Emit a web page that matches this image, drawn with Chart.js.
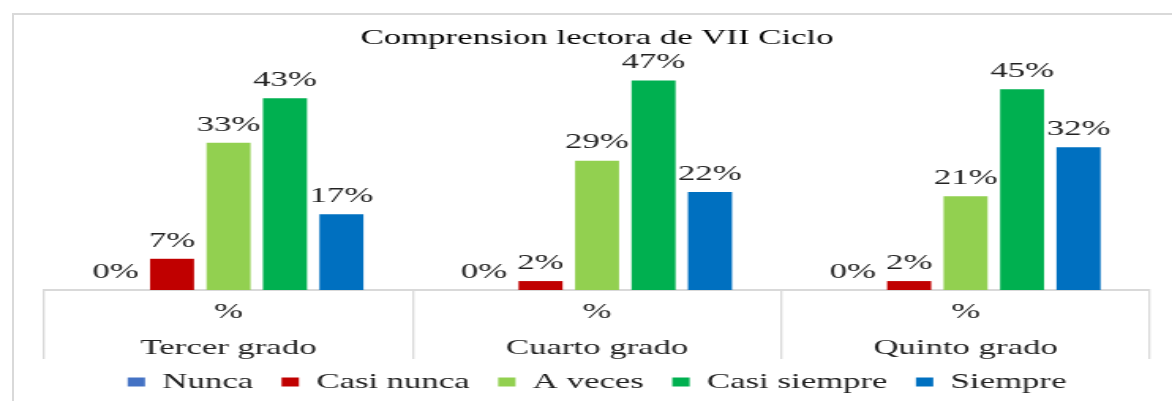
<!DOCTYPE html>
<html>
<head>
<meta charset="utf-8">
<script src="https://cdn.jsdelivr.net/npm/chart.js@4/dist/chart.umd.min.js"></script>
<style>
  html, body { margin: 0; padding: 0; background: #fff; overflow: hidden; }
  #frame {
    position: absolute; left: 12px; top: 13px; width: 1170px; height: 400px;
    border-left: 2px solid #d9d9d9; border-top: 2px solid #d9d9d9;
  }
  /* the original picture is stretched sideways, so the chart is drawn narrow and widened */
  #wrap {
    position: absolute; left: 0; top: 0; width: 742px; height: 401px;
    transform: scaleX(1.5795); transform-origin: 0 0;
  }
</style>
</head>
<body>
<div id="frame"></div>
<div id="wrap"><canvas id="chart"></canvas></div>
<script>
const serif = "'Times New Roman', 'Liberation Serif', serif";

// data
const categories = [['%', 'Tercer grado'], ['%', 'Cuarto grado'], ['%', 'Quinto grado']];
const seriesNames = ['Nunca', 'Casi nunca', 'A veces', 'Casi siempre', 'Siempre'];
const nunca = [0, 0, 0];
const casiNunca = [7, 2, 2];
const aVeces = [33, 29, 21];
const casiSiempre = [43, 47, 45];
const siempre = [17, 22, 32];
const colors = ['#4472C4', '#C00000', '#92D050', '#00B050', '#0070C0'];

const seriesValues = [nunca, casiNunca, aVeces, casiSiempre, siempre];

// value labels above each bar
const barLabels = {
  id: 'barLabels',
  afterDatasetsDraw(chart) {
    const ctx = chart.ctx;
    ctx.save();
    ctx.font = '22px ' + serif;
    ctx.fillStyle = '#222';
    ctx.textAlign = 'center';
    ctx.textBaseline = 'middle';
    chart.data.datasets.forEach((ds, i) => {
      chart.getDatasetMeta(i).data.forEach((bar, j) => {
        ctx.fillText(ds.data[j] + '%', bar.x, bar.y - 18);
      });
    });
    ctx.restore();
  }
};

// legend sits tucked up against the category labels, as in the original
const legendLift = {
  id: 'legendLift',
  afterLayout(chart) {
    const lg = chart.legend;
    if (lg) {
      lg.top -= 13;
      lg.bottom -= 13;
    }
  }
};

const data = {
  labels: categories,
  datasets: seriesNames.map((name, i) => ({
    label: name,
    data: seriesValues[i],
    backgroundColor: colors[i],
    borderWidth: 0,
    categoryPercentage: 0.766,
    barPercentage: 0.78,
  })),
};

const config = {
  type: 'bar',
  data: data,
  options: {
    responsive: true,
    maintainAspectRatio: false,
    animation: false,
    layout: { padding: { left: 28, right: 14, top: 0, bottom: -15 } },
    plugins: {
      title: {
        display: true,
        text: 'Comprension lectora de VII Ciclo',
        color: '#000',
        font: { family: serif, size: 22, weight: 'normal' },
        padding: { top: 25, bottom: 15.6 },
      },
      legend: {
        position: 'bottom',
        labels: {
          color: '#222',
          font: { family: serif, size: 22 },
          boxWidth: 11,
          boxHeight: 9,
          padding: 18,
        },
      },
      tooltip: { enabled: false },
    },
    scales: {
      x: {
        grid: {
          offset: true,
          drawOnChartArea: false,
          drawTicks: true,
          tickLength: 69,
          color: '#d9d9d9',
          lineWidth: 1.3,
        },
        border: { display: true, color: '#d9d9d9', width: 2 },
        ticks: {
          color: '#222',
          font: { family: serif, size: 22, lineHeight: 36 / 22 },
          padding: -65,
          maxRotation: 0,
        },
        afterFit(scale) {
          scale.height = 76;
        },
      },
      y: {
        display: false,
        min: 0,
        max: 50,
      },
    },
  },
  plugins: [barLabels, legendLift],
};

new Chart(document.getElementById('chart'), config);
</script>
</body>
</html>
